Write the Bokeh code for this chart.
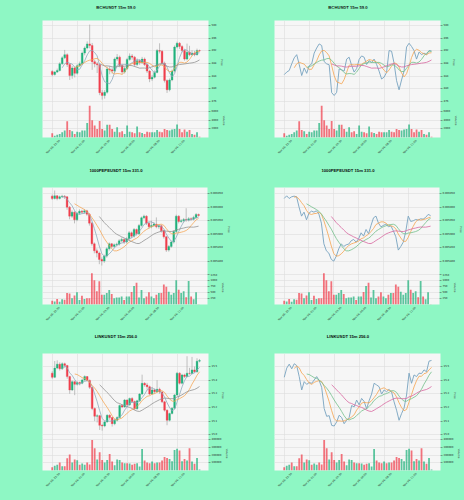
import numpy as np
import pandas as pd
from math import pi
from bokeh.plotting import figure
from bokeh.layouts import row, column
from bokeh.models import (Range1d, FixedTicker, PrintfTickFormatter, GlobalInlineStyleSheet,
                          ColumnDataSource, Div)
from bokeh.embed import file_html
from bokeh.resources import INLINE

# ---------------- data ----------------
x_tick_index = [0, 10, 20, 30, 40, 50]
x_tick_labels = ["Nov 05, 22:30", "Nov 06, 01:00", "Nov 06, 03:30",
                 "Nov 06, 06:00", "Nov 06, 08:30", "Nov 06, 11:00"]

bch_title = "BCHUSDT 15m 59.0"
bch_open = [485.5, 484.5, 485.3, 485.8, 487.9, 489.8, 490.8, 487.7, 484.2, 486.6,
            484.9, 487.3, 487.9, 491.3, 492.9, 494.2, 493.7, 488.6, 487.9, 487.6,
            478.8, 477.9, 478.9, 486.3, 486.0, 485.6, 489.4, 490.0, 487.4, 485.3,
            486.4, 489.3, 490.4, 490.0, 487.7, 488.9, 488.3, 489.4, 487.7, 485.6,
            483.1, 483.7, 485.2, 492.1, 491.9, 488.1, 482.6, 479.7, 482.8, 485.6,
            493.2, 494.4, 493.4, 492.1, 489.4, 491.6, 490.8, 491.3, 490.8, 492.1]
bch_high = [485.9, 485.6, 486.4, 488.4, 490.3, 492.3, 491.2, 488.1, 487.2, 487.0,
            487.8, 488.6, 491.8, 493.4, 495.0, 500.3, 494.5, 489.2, 488.5, 488.0,
            479.6, 479.6, 487.0, 487.2, 486.7, 489.9, 491.0, 490.5, 487.9, 487.0,
            489.8, 491.2, 491.0, 490.4, 489.6, 489.4, 490.1, 489.9, 488.0, 486.0,
            484.4, 485.8, 492.6, 494.4, 492.3, 488.6, 483.0, 483.3, 486.1, 493.7,
            494.9, 494.8, 493.8, 492.5, 494.3, 493.6, 492.2, 492.0, 492.7, 492.4]
bch_low = [484.0, 484.2, 485.0, 485.5, 487.6, 489.4, 486.9, 482.8, 483.2, 483.6,
           484.5, 486.9, 487.5, 490.6, 492.5, 492.8, 486.0, 486.8, 485.0, 478.0,
           476.6, 476.9, 478.5, 484.6, 484.8, 485.1, 488.8, 486.8, 484.6, 484.8,
           486.0, 488.9, 489.2, 487.0, 487.2, 487.6, 487.9, 487.2, 485.0, 482.1,
           482.5, 483.3, 484.9, 491.2, 487.5, 482.0, 478.7, 479.2, 482.4, 485.2,
           492.8, 492.6, 491.5, 488.9, 489.0, 490.3, 490.4, 490.3, 490.5, 491.8]
bch_close = [484.5, 485.3, 485.8, 487.9, 489.8, 490.8, 487.7, 484.2, 486.6, 484.9,
             487.3, 487.9, 491.3, 492.9, 494.2, 493.7, 488.6, 487.9, 487.6, 478.8,
             477.9, 478.9, 486.3, 486.0, 485.6, 489.4, 490.0, 487.4, 485.3, 486.4,
             489.3, 490.4, 490.0, 487.7, 488.9, 488.3, 489.4, 487.7, 485.6, 483.1,
             483.7, 485.2, 492.1, 491.9, 488.1, 482.6, 479.7, 482.8, 485.6, 493.2,
             494.4, 493.4, 492.1, 489.4, 491.6, 490.8, 491.3, 490.8, 492.1, 492.0]
bch_volume = [1000, 400, 640, 800, 1200, 1600, 3760, 1760, 1440, 800,
              1360, 1200, 1600, 1600, 3360, 7360, 4000, 2800, 2000, 3840,
              2000, 1600, 2960, 2960, 2000, 1360, 2400, 1200, 1440, 800,
              2800, 1360, 1200, 960, 2560, 1200, 1040, 800, 1360, 1200,
              1200, 1200, 1760, 1360, 1200, 2000, 1760, 1600, 1840, 2000,
              3040, 2000, 1200, 1840, 1360, 1760, 800, 640, 1200, 160]
bch_price_ticks = [476, 480, 484, 488, 492, 496, 500]
bch_volume_ticks = [2000, 4000, 6000]

pepe_title = "1000PEPEUSDT 15m 331.0"
# prices in millionths of a USDT
pepe_open_u = [6040.2, 6031.6, 6041.4, 6031.6, 6037.7, 6040.2, 6037.7, 5999.8, 5966.7, 5981.4,
               5953.2, 5977.7, 5985.0, 5981.4, 5986.3, 5974.0, 5940.9, 5864.9, 5839.2, 5830.6,
               5807.3, 5801.2, 5819.6, 5846.6, 5864.9, 5855.1, 5861.3, 5863.7, 5876.0, 5880.9,
               5871.1, 5883.3, 5905.4, 5893.1, 5917.6, 5901.7, 5932.4, 5960.5, 5966.7, 5940.9,
               5927.4, 5932.4, 5937.3, 5927.4, 5931.1, 5912.7, 5890.7, 5841.7, 5855.1, 5871.1,
               5910.3, 5966.7, 5947.1, 5949.5, 5954.4, 5952.0, 5956.9, 5955.6, 5961.8, 5972.8]
pepe_high_u = [6046, 6061, 6044, 6042, 6045, 6044, 6040, 6004, 5988, 5985,
               5982, 5992, 5990, 5993, 5990, 5978, 5945, 5870, 5848, 5836,
               5815, 5825, 5852, 5870, 5868, 5866, 5869, 5882, 5888, 5885,
               5889, 5912, 5910, 5923, 5921, 5938, 5965, 5972, 5970, 5946,
               5950, 5945, 5962, 5937, 5935, 5916, 5894, 5860, 5876, 5915,
               5972, 5970, 5956, 5960, 5996, 5963, 5962, 5968, 5978, 5976]
pepe_low_u = [6026, 6028, 6025, 6028, 6034, 6030, 5990, 5955, 5960, 5940,
              5948, 5972, 5975, 5976, 5968, 5932, 5858, 5830, 5815, 5790,
              5785, 5795, 5814, 5840, 5849, 5850, 5855, 5858, 5870, 5864,
              5866, 5878, 5886, 5888, 5895, 5897, 5928, 5955, 5934, 5920,
              5922, 5927, 5922, 5920, 5906, 5884, 5835, 5836, 5850, 5866,
              5905, 5940, 5942, 5944, 5946, 5947, 5950, 5951, 5958, 5965]
pepe_close_u = [6031.6, 6041.4, 6031.6, 6037.7, 6040.2, 6037.7, 5999.8, 5966.7, 5981.4, 5953.2,
                5977.7, 5985.0, 5981.4, 5986.3, 5974.0, 5940.9, 5864.9, 5839.2, 5830.6, 5807.3,
                5801.2, 5819.6, 5846.6, 5864.9, 5855.1, 5861.3, 5863.7, 5876.0, 5880.9, 5871.1,
                5883.3, 5905.4, 5893.1, 5917.6, 5901.7, 5932.4, 5960.5, 5966.7, 5940.9, 5927.4,
                5932.4, 5937.3, 5927.4, 5931.1, 5912.7, 5890.7, 5841.7, 5855.1, 5871.1, 5910.3,
                5966.7, 5947.1, 5949.5, 5954.4, 5952.0, 5956.9, 5955.6, 5961.8, 5972.8, 5969.1]
pepe_volume = [160, 130, 235, 120, 220, 205, 485, 470, 265, 380,
               515, 190, 370, 235, 265, 265, 1320, 1030, 560, 985,
               415, 415, 485, 615, 440, 265, 295, 295, 340, 190,
               340, 340, 530, 780, 925, 295, 615, 265, 340, 515,
               340, 265, 415, 485, 485, 850, 750, 545, 415, 485,
               1030, 630, 485, 560, 310, 1000, 340, 220, 515, 15]
pepe_price_ticks = [0.005800, 0.005850, 0.005900, 0.005950, 0.006000, 0.006050]
pepe_volume_ticks = [250, 500, 750, 1000, 1250]

link_title = "LINKUSDT 15m 256.0"
link_open = [15.451, 15.421, 15.488, 15.517, 15.483, 15.520, 15.507, 15.426, 15.328, 15.389,
             15.369, 15.382, 15.377, 15.401, 15.426, 15.397, 15.347, 15.192, 15.135, 15.140,
             15.069, 15.064, 15.094, 15.143, 15.126, 15.081, 15.106, 15.126, 15.214, 15.204,
             15.254, 15.219, 15.266, 15.244, 15.190, 15.249, 15.298, 15.377, 15.365, 15.352,
             15.298, 15.328, 15.315, 15.333, 15.313, 15.241, 15.180, 15.106, 15.155, 15.195,
             15.291, 15.451, 15.377, 15.438, 15.426, 15.451, 15.448, 15.475, 15.461, 15.539]
link_high = [15.465, 15.540, 15.545, 15.530, 15.530, 15.528, 15.512, 15.432, 15.398, 15.395,
             15.392, 15.390, 15.410, 15.435, 15.430, 15.405, 15.352, 15.200, 15.150, 15.145,
             15.080, 15.102, 15.150, 15.150, 15.130, 15.115, 15.135, 15.222, 15.225, 15.262,
             15.260, 15.272, 15.275, 15.250, 15.256, 15.305, 15.440, 15.385, 15.380, 15.360,
             15.350, 15.340, 15.400, 15.345, 15.320, 15.248, 15.186, 15.162, 15.202, 15.298,
             15.460, 15.458, 15.446, 15.447, 15.575, 15.490, 15.570, 15.500, 15.560, 15.555]
link_low = [15.410, 15.415, 15.480, 15.470, 15.475, 15.490, 15.410, 15.300, 15.320, 15.290,
            15.360, 15.362, 15.370, 15.395, 15.390, 15.335, 15.180, 15.100, 15.090, 15.035,
            15.030, 15.055, 15.088, 15.110, 15.060, 15.070, 15.098, 15.120, 15.195, 15.198,
            15.210, 15.212, 15.236, 15.182, 15.184, 15.240, 15.290, 15.352, 15.330, 15.290,
            15.292, 15.300, 15.310, 15.300, 15.232, 15.170, 15.070, 15.098, 15.150, 15.188,
            15.285, 15.368, 15.370, 15.415, 15.420, 15.440, 15.442, 15.455, 15.455, 15.530]
link_close = [15.421, 15.488, 15.517, 15.483, 15.520, 15.507, 15.426, 15.328, 15.389, 15.369,
              15.382, 15.377, 15.401, 15.426, 15.397, 15.347, 15.192, 15.135, 15.140, 15.069,
              15.064, 15.094, 15.143, 15.126, 15.081, 15.106, 15.126, 15.214, 15.204, 15.254,
              15.219, 15.266, 15.244, 15.190, 15.249, 15.298, 15.377, 15.365, 15.352, 15.298,
              15.328, 15.315, 15.333, 15.313, 15.241, 15.180, 15.106, 15.155, 15.195, 15.291,
              15.451, 15.377, 15.438, 15.426, 15.451, 15.448, 15.475, 15.461, 15.539, 15.544]
link_volume = [43000, 60000, 73000, 103000, 56000, 56000, 159000, 206000, 103000, 142000,
               133000, 73000, 90000, 73000, 103000, 77000, 395000, 288000, 142000, 236000,
               137000, 103000, 137000, 215000, 116000, 69000, 142000, 137000, 103000, 94000,
               94000, 90000, 73000, 86000, 94000, 52000, 279000, 129000, 103000, 94000,
               116000, 94000, 103000, 103000, 129000, 176000, 163000, 150000, 120000, 266000,
               283000, 258000, 120000, 150000, 129000, 288000, 116000, 86000, 163000, 13000]
link_price_ticks = [15.0, 15.1, 15.2, 15.3, 15.4, 15.5]
link_volume_ticks = [100000, 200000, 300000, 400000]

mav_periods = [5, 10, 20]

# ---------------- style ----------------
BG = "#8ef7c4"
PLOT_BG = "#f6f6f6"
GRID = "#dedede"
UP = "#1fb27c"
DOWN = "#f03e4c"
WICK = "#9a9a9a"
LEFT_MAV = ["#8ba6ba", "#f5a34f", "#8e8e8e"]
RIGHT_CLOSE = "#77a3bf"
RIGHT_MAV = ["#f5a34f", "#72bf8a", "#d8679f"]
FONT = "DejaVu Sans"
TICK_FS = "2.6px"
FW, PH, VH = 166, 84, 33
LEFT_B, RIGHT_B = 42, 24
CELL_W = LEFT_B + FW + RIGHT_B
LABEL_SHIFT = 3          # rotated date labels are centred on their tick
TITLE_CX = 116           # title centre inside a 232 px cell

symbols = [
    dict(title=bch_title, o=bch_open, h=bch_high, l=bch_low, c=bch_close, v=bch_volume,
         pt=bch_price_ticks, vt=bch_volume_ticks, prange=(475.05, 501.6), vmax=7900, pfmt="%d",
         title_h=8, title_cy=3, top=12, bottom=26),
    dict(title=pepe_title, o=np.array(pepe_open_u) * 1e-6, h=np.array(pepe_high_u) * 1e-6,
         l=np.array(pepe_low_u) * 1e-6, c=np.array(pepe_close_u) * 1e-6, v=pepe_volume,
         pt=pepe_price_ticks, vt=pepe_volume_ticks, prange=(0.005763, 0.006072), vmax=1440,
         pfmt="%.6f", title_h=12, title_cy=7, top=12, bottom=25),
    dict(title=link_title, o=link_open, h=link_high, l=link_low, c=link_close, v=link_volume,
         pt=link_price_ticks, vt=link_volume_ticks, prange=(14.980, 15.595), vmax=441000,
         pfmt="%.1f", title_h=12, title_cy=7, top=12, bottom=30),
]


def title_div(text, h, cy):
    svg = (f'<svg xmlns="http://www.w3.org/2000/svg" width="{CELL_W}" height="{h}" '
           f'style="display:block;overflow:visible">'
           f'<text x="{TITLE_CX}" y="{cy + 1.5}" font-family="{FONT}" font-size="4.2" '
           f'font-weight="bold" text-anchor="middle" fill="#0a0a0a">{text}</text></svg>')
    return Div(text=svg, width=CELL_W, height=h, margin=0)


def style_y(ax, ticks, fmt, label):
    ax.ticker = FixedTicker(ticks=ticks)
    ax.formatter = PrintfTickFormatter(format=fmt)
    ax.axis_label = label
    ax.axis_label_text_font = FONT
    ax.axis_label_text_font_size = TICK_FS
    ax.axis_label_text_font_style = "normal"
    ax.axis_label_standoff = 1
    ax.major_label_text_font = FONT
    ax.major_label_text_font_size = TICK_FS
    ax.major_label_text_color = "#222222"
    ax.major_label_standoff = 1
    ax.axis_line_color = None
    ax.major_tick_line_color = "#444444"
    ax.major_tick_line_width = 0.5
    ax.major_tick_out = 2
    ax.major_tick_in = 0


def build_cell(s, kind):
    o = np.asarray(s["o"], dtype=float)
    h = np.asarray(s["h"], dtype=float)
    l = np.asarray(s["l"], dtype=float)
    c = np.asarray(s["c"], dtype=float)
    v = np.asarray(s["v"], dtype=float)
    x = np.arange(len(c))
    up = c >= o
    col = np.where(up, UP, DOWN)
    xr = Range1d(-3.9, 62.6)

    p = figure(width=CELL_W, height=s["top"] + PH, x_range=xr,
               y_range=Range1d(*s["prange"]), output_backend="svg", toolbar_location=None,
               x_axis_location=None, y_axis_location="right",
               min_border_left=LEFT_B, min_border_right=RIGHT_B,
               min_border_top=s["top"], min_border_bottom=0,
               background_fill_color=PLOT_BG, border_fill_color=BG, outline_line_color=None)
    style_y(p.yaxis[0], s["pt"], s["pfmt"], "Price")
    p.xgrid.ticker = FixedTicker(ticks=x_tick_index)
    p.ygrid.ticker = FixedTicker(ticks=s["pt"])
    p.grid.grid_line_color = GRID
    p.grid.grid_line_width = 0.6

    closes = pd.Series(c)
    if kind == "candle":
        src = ColumnDataSource(dict(x=x, h=h, l=l, top=np.maximum(o, c), bot=np.minimum(o, c), col=col))
        p.segment("x", "h", "x", "l", source=src, line_color=WICK, line_width=0.6)
        p.vbar(x="x", width=0.72, top="top", bottom="bot", fill_color="col",
               line_color="col", line_width=0.3, source=src)
        for n, mc in zip(mav_periods, LEFT_MAV):
            p.line(x, closes.rolling(n).mean().values, line_color=mc, line_width=0.75)
    else:
        p.line(x, c, line_color=RIGHT_CLOSE, line_width=0.9)
        for n, mc in zip(mav_periods, RIGHT_MAV):
            p.line(x, closes.rolling(n).mean().values, line_color=mc, line_width=0.8)

    q = figure(width=CELL_W, height=VH + 1 + s["bottom"], x_range=xr, y_range=Range1d(0, s["vmax"]),
               output_backend="svg", toolbar_location=None, y_axis_location="right",
               x_axis_location="below",
               min_border_left=LEFT_B, min_border_right=RIGHT_B,
               min_border_top=0, min_border_bottom=s["bottom"],
               background_fill_color=PLOT_BG, border_fill_color=BG, outline_line_color=None,
               styles={"margin-top": "-1px"})
    style_y(q.yaxis[0], s["vt"], "%d", "Volume")
    xa = q.xaxis[0]
    label_pos = [t + LABEL_SHIFT for t in x_tick_index]
    xa.ticker = FixedTicker(ticks=label_pos)
    xa.major_label_overrides = {t: lab for t, lab in zip(label_pos, x_tick_labels)}
    xa.major_label_orientation = pi / 4
    xa.major_label_text_font = FONT
    xa.major_label_text_font_size = TICK_FS
    xa.major_label_text_color = "#222222"
    xa.major_label_standoff = 1
    xa.axis_line_color = None
    xa.major_tick_line_color = None
    xa.major_tick_out = 2
    xa.major_tick_in = 0
    q.xgrid.ticker = FixedTicker(ticks=x_tick_index)
    q.ygrid.ticker = FixedTicker(ticks=s["vt"])
    q.grid.grid_line_color = GRID
    q.grid.grid_line_width = 0.6
    q.vbar(x=x, width=0.72, top=v, bottom=0, fill_color=col, fill_alpha=0.72, line_color=None)
    return column(p, q, spacing=0)


blocks = []
for s in symbols:
    titles = row(title_div(s["title"], s["title_h"], s["title_cy"]),
                 title_div(s["title"], s["title_h"], s["title_cy"]), spacing=0)
    cells = row(build_cell(s, "candle"), build_cell(s, "line"), spacing=0)
    blocks.append(column(titles, cells, spacing=0))

layout = column(*blocks, spacing=0,
                stylesheets=[GlobalInlineStyleSheet(css="html, body { background-color: #8ef7c4; }")])

with open("out.html", "w") as f:
    f.write(file_html(layout, INLINE))
